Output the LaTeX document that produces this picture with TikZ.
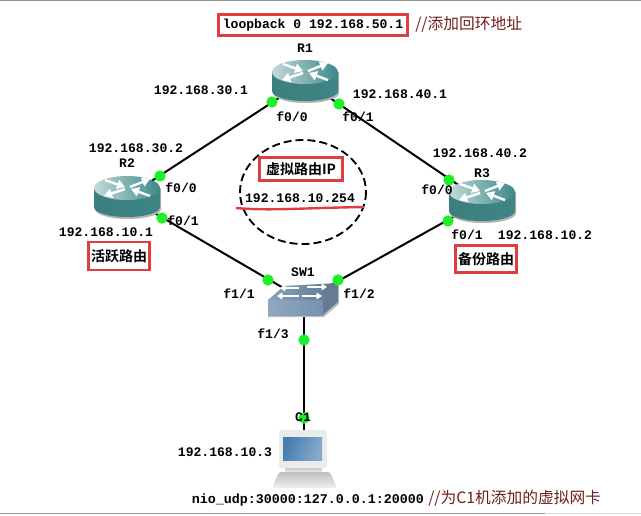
\documentclass[tikz,border=0pt]{standalone}
\usepackage{fontspec}
\setmonofont{Liberation Mono}
\newfontfamily\cjkfont{Noto Sans CJK SC}
\newfontfamily\cjkbold{Noto Sans CJK SC Bold}
\usetikzlibrary{arrows.meta}
\definecolor{boxred}{RGB}{224,62,62}
\definecolor{notered}{RGB}{110,30,30}
\definecolor{dotgreen}{RGB}{30,240,40}
\definecolor{routerteal}{RGB}{66,140,140}
\definecolor{switchblue}{RGB}{118,146,176}
\definecolor{screenblue}{RGB}{70,125,175}
\tikzset{
    routerarrow/.style={white, line width=1.8pt, -{Triangle[length=6pt,width=7pt]}},
    switcharrow/.style={white, line width=1.4pt, -{Triangle[length=4pt,width=5pt]}},
    routericon/.pic={
        \fill[black!30] (-32,-9) -- (-32,12) arc[start angle=180, end angle=0, x radius=33, y radius=10] -- (34,-9) -- cycle;
        \path[left color=routerteal!90!black, middle color=routerteal, right color=routerteal!95!black]
            (-33,-9) -- (-33,10) arc[start angle=180, end angle=0, x radius=33, y radius=10] -- (33,-9) -- cycle;
        \path[left color=routerteal!35!white, middle color=routerteal!85!white, right color=routerteal, shading angle=100]
            (0,-9) ellipse[x radius=33, y radius=12];
        \draw[routerarrow] (-22,-17) -- (-2,-10);
        \draw[routerarrow] (3,-10) -- (23,-18);
        \draw[routerarrow] (-2,-8) -- (-23,-1);
        \draw[routerarrow] (23,-1) -- (4,-8);
    },
    switchicon/.pic={
        \fill[black!25] (-36,2) -- (-36,17) -- (20,17) -- (35,4) -- (35,-14) -- cycle;
        \path[left color=switchblue!80!white, right color=switchblue] (-36,0) -- (19,0) -- (19,15) -- (-36,15) -- cycle;
        \fill[switchblue!85!black] (19,0) -- (34,-17) -- (34,2) -- (19,15) -- cycle;
        \path[left color=switchblue!85!white, right color=switchblue!80!black] (-36,0) -- (-20,-14) -- (34,-17) -- (19,0) -- cycle;
        \draw[switcharrow] (-5,-12) -- (-24,-12);
        \draw[switcharrow] (3,-13) -- (23,-13);
        \draw[switcharrow] (-5,-4) -- (-27,-4);
        \draw[switcharrow] (-2,-4) -- (18,-4);
    },
    hosticon/.pic={
        \path[top color=black!22, bottom color=black!8] (-19,9) rectangle (18,13);
        \path[top color=black!25, bottom color=black!6, rounded corners=2pt] (-25,13) -- (26,13) -- (33,29) -- (-32,29) -- cycle;
        \fill[black!8, rounded corners=1.5pt] (-25,-29) rectangle (23,9);
        \path[left color=screenblue, right color=screenblue!65!white, shading angle=70] (-21,-22) rectangle (18,1);
    }
}
\begin{document}
\begin{tikzpicture}[x=0.75pt,y=-0.75pt,>=stealth,
        linkline/.style={line width=1.5pt},
        spot/.style={inner sep=0pt, minimum size=1pt},
        portdot/.style={circle, fill=dotgreen, inner sep=0pt, minimum size=8.5pt},
        netlabel/.style={font=\ttfamily\bfseries\fontsize{9.8}{11}\selectfont, inner sep=0pt},
        redbox/.style={draw=boxred, line width=2pt, inner sep=0pt, font=\cjkbold\fontsize{10.5}{12}\selectfont},
        notetext/.style={text=notered, inner sep=0pt, font=\cjkfont\fontsize{11.8}{14}\selectfont}]
    \useasboundingbox (0,0) rectangle (641,515);
    \draw[black!45, line width=0.8pt] (0,0.5) -- (641,0.5);
    \draw[black!40, line width=0.8pt] (0,513.5) -- (545,513.5);
    \draw[black!15, line width=0.8pt] (545,513.5) -- (641,513.5);
    \node[spot] (r1) at (305,81) {};
    \node[spot] (r2) at (127,197) {};
    \node[spot] (r3) at (482,201) {};
    \node[spot] (sw1) at (304,300) {};
    \node[spot] (c1) at (304,459) {};
    % links
    \draw[linkline] (r1) -- (r2);
    \draw[linkline] (r1) -- (r3);
    \draw[linkline] (r2) -- (sw1);
    \draw[linkline] (r3) -- (sw1);
    \draw[linkline] (sw1) -- (c1);
    \pic at (r1) {routericon};
    \pic at (r2) {routericon};
    \pic at (r3) {routericon};
    \pic at (sw1) {switchicon};
    \pic at (c1) {hosticon};
    \node[portdot] (d1) at (272,102) {};
    \node[portdot] (d2) at (339,104) {};
    \node[portdot] (d3) at (160,176) {};
    \node[portdot] (d4) at (162,218) {};
    \node[portdot] (d5) at (449,180) {};
    \node[portdot] (d6) at (448,221) {};
    \node[portdot] (d7) at (268,280) {};
    \node[portdot] (d8) at (338,280) {};
    \node[portdot] (d9) at (304,340) {};
    \node[portdot] (d10) at (304,418) {};
    % device names
    \node[netlabel] (nr1) at (305,48) {R1};
    \node[netlabel] (nr2) at (127,163) {R2};
    \node[netlabel] (nr3) at (482,173) {R3};
    \node[netlabel] (nsw) at (303,272) {SW1};
    \node[netlabel] (nc1) at (303,417) {C1};
    % addresses
    \node[netlabel] (a1) at (201,90) {192.168.30.1};
    \node[netlabel] (a2) at (400,94) {192.168.40.1};
    \node[netlabel] (a3) at (136,148) {192.168.30.2};
    \node[netlabel] (a4) at (480,153) {192.168.40.2};
    \node[netlabel] (a5) at (106,232) {192.168.10.1};
    \node[netlabel] (a6) at (545,235) {192.168.10.2};
    \node[netlabel] (a7) at (225,452) {192.168.10.3};
    % ports
    \node[netlabel] (p1) at (292,117) {f0/0};
    \node[netlabel] (p2) at (358,117) {f0/1};
    \node[netlabel] (p3) at (181,188) {f0/0};
    \node[netlabel] (p4) at (183,221) {f0/1};
    \node[netlabel] (p5) at (437,190) {f0/0};
    \node[netlabel] (p6) at (467,235) {f0/1};
    \node[netlabel] (p7) at (239,294) {f1/1};
    \node[netlabel] (p8) at (359,294) {f1/2};
    \node[netlabel] (p9) at (273,334) {f1/3};
    % virtual router
    \draw[line width=1.4pt, dash pattern=on 6pt off 3pt] (303,192) ellipse[x radius=63, y radius=52];
    \node[redbox, minimum width=62pt, minimum height=17pt] (vip) at (301,169) {虚拟路由IP};
    \node[netlabel] (vaddr) at (300,198) {192.168.10.254};
    \coordinate (ua) at (236,208);
    \coordinate (ub) at (364,207);
    \draw[boxred, line width=1.8pt] (ua) .. controls (270,211) and (300,208) .. (ub);
    % notes
    \node[netlabel, draw=boxred, line width=2pt, minimum width=142pt, minimum height=16pt] (loop) at (313,25) {loopback 0 192.168.50.1};
    \node[notetext, anchor=west] (lnote) at (415,24) {//添加回环地址};
    \node[redbox, minimum width=46pt, minimum height=21pt] (box2) at (119,256) {活跃路由};
    \node[redbox, minimum width=46pt, minimum height=20pt] (box3) at (486,259) {备份路由};
    \node[netlabel, font=\ttfamily\bfseries\fontsize{10}{11}\selectfont] (nio) at (308,500) {nio\_udp:30000:127.0.0.1:20000};
    \node[notetext, anchor=west] (nnote) at (428,498) {//为C1机添加的虚拟网卡};
\end{tikzpicture}
\end{document}
